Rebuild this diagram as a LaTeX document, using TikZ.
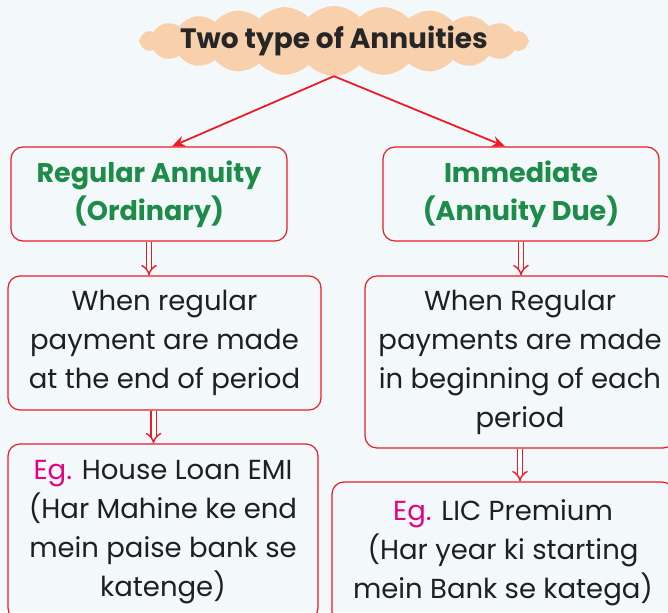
\documentclass[tikz,border=0pt]{standalone}
\usepackage{fontspec}
\setmainfont{Poppins}
\usetikzlibrary{shapes.symbols,arrows.meta}
\definecolor{annred}{RGB}{237,28,36}
\definecolor{anngreen}{RGB}{28,140,72}
\definecolor{annpink}{RGB}{230,0,126}
\definecolor{cloudpeach}{RGB}{249,208,172}
\definecolor{bgblue}{RGB}{243,248,251}
\tikzset{
  typebox/.style={draw=annred, line width=1.2pt, rounded corners=12pt, align=center,
    inner sep=0pt, font=\fontsize{27.5}{39}\selectfont, text=black!88},
  headtext/.style={text=anngreen, font=\bfseries\fontsize{27}{38}\selectfont},
  dblarrow/.style={annred, line width=1.4pt, double distance=4pt, -{Implies[scale=1.5]}},
  cloudarrow/.style={annred, line width=1.8pt, -{Stealth[length=13pt,width=11pt]}}
}
\begin{document}
\begin{tikzpicture}[x=1pt, y=-1pt]
    % page and background
    \useasboundingbox (0,0) rectangle (668,612);
    \clip (0,0) rectangle (668,612);
    \fill[bgblue] (0,0) rectangle (668,612);

    % cloud heading
    \node[cloud, cloud puffs=24, cloud puff arc=95, aspect=6.5, fill=cloudpeach,
          minimum width=390pt, minimum height=70pt, inner xsep=-46pt, inner ysep=-7pt,
          font=\bfseries\fontsize{28}{30}\selectfont, text=black!85] (title) at (334,41) {Two type of Annuities};

    % the two kinds
    \node[typebox, headtext, minimum width=276pt, minimum height=94pt] (regular) at (149,194) {Regular Annuity\\(Ordinary)};
    \node[typebox, headtext, minimum width=276pt, minimum height=94pt] (immediate) at (521,194) {Immediate\\(Annuity Due)};

    % when the payment is made
    \node[typebox, minimum width=313pt, minimum height=134pt] (endpay) at (164.5,343) {When regular\\payment are made\\at the end of period};
    \node[typebox, minimum width=310pt, minimum height=172pt] (beginpay) at (520,362) {When Regular\\payments are made\\in beginning of each\\period};

    % examples (cut off by the page)
    \node[typebox, minimum width=310pt, minimum height=176pt] (emi) at (163,532) {{\color{annpink}Eg.} House Loan EMI\\(Har Mahine ke end\\mein paise bank se\\katenge)};
    \node[typebox, minimum width=342pt, minimum height=142pt] (lic) at (503,553) {{\color{annpink}Eg.} LIC Premium\\(Har year ki starting\\mein Bank se katega)};

    % arrows
    \draw[cloudarrow] (title.south) -- ([xshift=23pt]regular.north);
    \draw[cloudarrow] (title.south) -- ([xshift=-16pt]immediate.north);
    \draw[dblarrow] (regular.south) -- (regular.south |- endpay.north);
    \draw[dblarrow] ([xshift=-11pt]endpay.south) -- ([xshift=-11pt]endpay.south |- emi.north);
    \draw[dblarrow] (immediate.south) -- (immediate.south |- beginpay.north);
    \draw[dblarrow] (beginpay.south) -- (beginpay.south |- lic.north);
\end{tikzpicture}
\end{document}
